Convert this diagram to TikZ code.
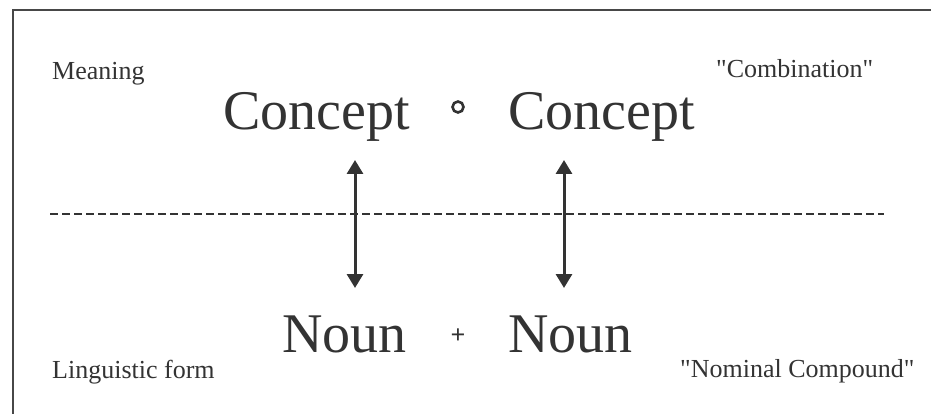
\documentclass[tikz,border=0pt]{standalone}
\usepackage{fontspec}
\setmainfont{Liberation Serif}
\usepackage{tikz}
\usetikzlibrary{arrows.meta, positioning}
\definecolor{inkgray}{HTML}{333333}

\begin{document}
\begin{tikzpicture}[
  x=1pt, y=-1pt,
  bigword/.style={font=\fontsize{56}{60}\selectfont, text=inkgray, inner sep=0pt, anchor=base west},
  smallword/.style={font=\fontsize{26}{30}\selectfont, text=inkgray, inner sep=0pt, anchor=base west},
  link/.style={{Triangle[length=14pt, width=16pt]}-{Triangle[length=14pt, width=16pt]}, draw=inkgray, line width=3pt},
  levelline/.style={draw=inkgray, line width=2pt, dash pattern=on 8pt off 4pt},
  compose/.style={circle, draw=inkgray, line width=2.6pt, minimum size=11pt, inner sep=0pt},
]
  \useasboundingbox (0,0) rectangle (931,414);

  % frame (top and left edge)
  \draw[inkgray!90, line width=2pt] (13,414) -- (13,10) -- (931,10);

  % level names
  \node[smallword] (meaning) at (52,80) {Meaning};
  \node[smallword] (form) at (52,378) {Linguistic form};
  \node[smallword] (combination) at (716,78) {\textquotedbl Combination\textquotedbl};
  \node[smallword] (compound) at (680,377) {\textquotedbl Nominal Compound\textquotedbl};

  % meaning level
  \node[bigword] (concepta) at (223,130) {Concept};
  \node[compose] (ring) at (458,107) {};
  \node[bigword] (conceptb) at (508,130) {Concept};

  % form level
  \node[bigword] (nouna) at (282,352) {Noun};
  \node[font=\fontsize{26}{30}\selectfont\bfseries, text=inkgray, inner sep=0pt] (plus) at (458,336) {+};
  \node[bigword] (nounb) at (508,352) {Noun};

  % dividing line
  \coordinate (lineleft) at (50,214);
  \coordinate (lineright) at (884,214);
  \draw[levelline] (lineleft) -- (lineright);

  % links between the levels
  \coordinate (atop) at (355,160);
  \coordinate (abot) at (355,288);
  \coordinate (btop) at (564,160);
  \coordinate (bbot) at (564,288);
  \draw[link] (atop) -- (abot);
  \draw[link] (btop) -- (bbot);

\end{tikzpicture}
\end{document}
